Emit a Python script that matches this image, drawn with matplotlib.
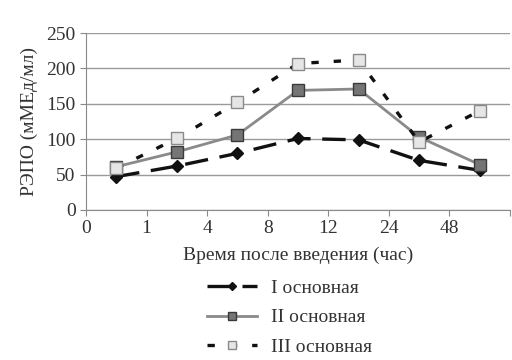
import matplotlib
matplotlib.use('Agg')
import matplotlib.pyplot as plt
import numpy as np

# Данные
tick_labels = ['0', '1', '4', '8', '12', '24', '48']
series_1 = [47, 62, 80, 101, 99, 70, 56]
series_2 = [61, 82, 106, 169, 171, 103, 64]
series_3 = [59, 101, 152, 207, 212, 96, 140]
names = ['I основная', 'II основная', 'III основная']

plt.rcParams['font.family'] = ['Liberation Serif', 'DejaVu Serif']

fig = plt.figure(figsize=(5.12, 3.6), dpi=100)
ax = fig.add_axes([0.168, 0.417, 0.828, 0.491])

x = np.arange(len(series_1)) + 0.5

ax.plot(x, series_1, color='#111111', lw=2.4, dashes=(7, 3.5),
        marker='D', ms=6, mfc='#111111', mec='#111111', label=names[0], zorder=3)
ax.plot(x, series_2, color='#8a8a8a', lw=2.0,
        marker='s', ms=8.5, mfc='#757575', mec='#3a3a3a', mew=1.0, label=names[1], zorder=3)
ax.plot(x, series_3, color='#111111', lw=2.4, dashes=(2.2, 4.5),
        marker='s', ms=8.5, mfc='#e6e6e6', mec='#8a8a8a', mew=1.0, label=names[2], zorder=3)

ax.set_xlim(0, 7)
ax.set_ylim(0, 250)
ax.set_xticks(np.arange(8))
ax.set_xticklabels(tick_labels + [''])
ax.set_yticks(np.arange(0, 251, 50))
ax.yaxis.grid(True, color='#9a9a9a', lw=1.0)
ax.set_axisbelow(True)
for s in ['top', 'right']:
    ax.spines[s].set_visible(False)
for s in ['left', 'bottom']:
    ax.spines[s].set_color('#8a8a8a')
ax.tick_params(axis='both', colors='#8a8a8a', labelcolor='#333333', labelsize=14, length=4)
ax.set_xlabel('Время после введения (час)', fontsize=14, color='#333333', labelpad=7)
ax.set_ylabel('РЭПО (мМЕд/мл)', fontsize=14, color='#333333', labelpad=6)

fig.legend(loc='center', bbox_to_anchor=(0.565, 0.118), frameon=False, fontsize=14,
           labelcolor='#333333', handlelength=2.6, labelspacing=0.62, handletextpad=0.7,
           markerscale=0.75)

fig.savefig('out.png', dpi=100)
